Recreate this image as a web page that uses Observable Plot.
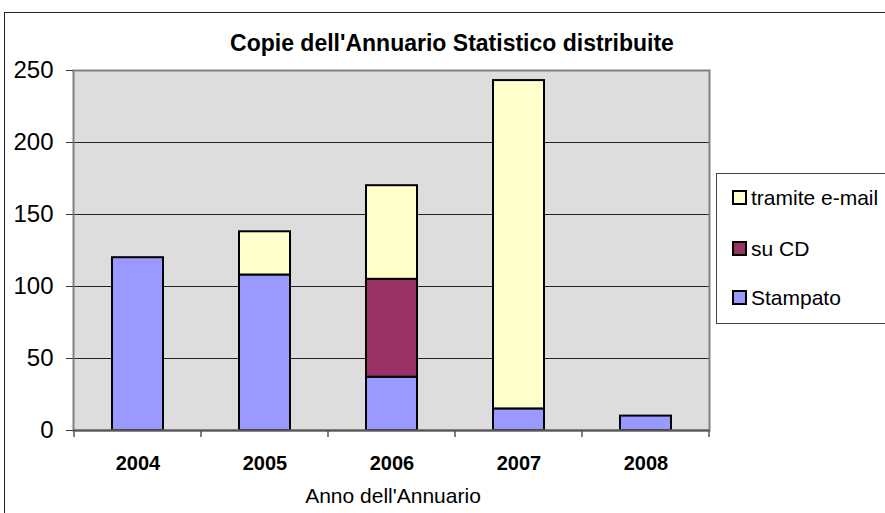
<!DOCTYPE html>
<html><head><meta charset="utf-8">
<script src="https://cdn.jsdelivr.net/npm/d3@7"></script>
<script src="https://cdn.jsdelivr.net/npm/@observablehq/plot@0.6"></script>
<style>
html,body{margin:0;padding:0;background:#fff;overflow:hidden}
#wrap{position:relative;width:885px;height:513px;overflow:hidden;font-family:"Liberation Sans",Arial,sans-serif;color:#000}
#border{position:absolute;left:4px;top:12px;width:1000px;height:1000px;border-left:1.5px solid #222;border-top:1.5px solid #222;box-sizing:border-box}
#chart{position:absolute;left:0;top:0}
#title{position:absolute;left:0;width:904px;top:31.5px;text-align:center;font-weight:bold;font-size:23px;line-height:23px;white-space:nowrap}
#xtitle{position:absolute;left:0;width:786px;top:485px;text-align:center;font-size:21px;line-height:21px;white-space:nowrap}
#legend{position:absolute;left:716px;top:173px;width:200px;height:151px;border:1.5px solid #444;background:#fff;box-sizing:border-box}
.item{position:absolute;left:15px;height:21px;display:flex;align-items:center;font-size:21px;line-height:21px;white-space:nowrap}
.sw{width:11px;height:11px;border:2px solid #000;margin-right:4px;flex:none}
</style>
</head><body>
<div id="wrap">
  <div id="border"></div>
  <div id="chart"></div>
  <div id="title">Copie dell'Annuario Statistico distribuite</div>
  <div id="xtitle">Anno dell'Annuario</div>
  <div id="legend"></div>
</div>
<script>
const years = ["2004", "2005", "2006", "2007", "2008"];
const series = ["Stampato", "su CD", "tramite e-mail"];
const stampato = [120, 108, 37, 15, 10];
const suCD = [0, 0, 68, 0, 0];
const email = [0, 30, 65, 228, 0];
const yTicks = [0, 50, 100, 150, 200, 250];
const colors = ["#9999FF", "#993366", "#FFFFCC"];
const legendOrder = ["tramite e-mail", "su CD", "Stampato"];

const seriesValues = [stampato, suCD, email];
const rows = [];
years.forEach((yr, i) => {
  series.forEach((s, j) => {
    const v = seriesValues[j][i];
    if (v > 0) rows.push({year: yr, series: s, value: v});
  });
});

function boundaryTicks(index, scales) {
  const x = scales.x;
  let bw = typeof x.bandwidth === "function" ? x.bandwidth() : (scales.scales && scales.scales.x.bandwidth) || 0;
  let step = typeof x.step === "function" ? x.step() : (x(years[1]) - x(years[0]));
  const y0 = scales.y(0);
  const xs = years.map(c => x(c) + bw / 2 - step / 2);
  xs.push(x(years[years.length - 1]) + bw / 2 + step / 2);
  const g = d3.create("svg:g").attr("stroke", "#555").attr("stroke-width", 1.5);
  g.selectAll("line").data(xs).join("line")
    .attr("x1", d => d).attr("x2", d => d)
    .attr("y1", y0).attr("y2", y0 + 7);
  return g.node();
}

const chart = Plot.plot({
  width: 885,
  height: 513,
  marginTop: 70,
  marginRight: 176,
  marginBottom: 83,
  marginLeft: 73,
  style: {fontFamily: '"Liberation Sans", Arial, sans-serif', background: "transparent", color: "#000"},
  x: {domain: years, paddingInner: 0.6, paddingOuter: 0.3, align: 0.5},
  y: {domain: [0, 250]},
  color: {domain: series, range: colors},
  marks: [
    Plot.frame({fill: "#DDDDDD", stroke: null}),
    Plot.ruleY(yTicks.filter(d => d > 0 && d < 250), {stroke: "#222", strokeWidth: 1}),
    Plot.barY(rows, {x: "year", y: "value", fill: "series", stroke: "#000", strokeWidth: 2, order: series}),
    Plot.frame({stroke: "#808080", strokeWidth: 2}),
    Plot.ruleY([0], {stroke: "#555", strokeWidth: 2}),
    Plot.axisY({ticks: yTicks, tickSize: 7, tickPadding: 13, fontSize: 24, label: null, stroke: "#333"}),
    Plot.axisX({tickSize: 0, tickPadding: 25, fontSize: 20, fontWeight: "bold", label: null}),
    boundaryTicks
  ]
});
document.getElementById("chart").appendChild(chart);

const legend = document.getElementById("legend");
const centers = [25, 76, 125];
legendOrder.forEach((s, i) => {
  const item = document.createElement("div");
  item.className = "item";
  item.style.top = (centers[i] - 10.5 - 1.5) + "px";
  const sw = document.createElement("span");
  sw.className = "sw";
  sw.style.background = colors[series.indexOf(s)];
  const t = document.createElement("span");
  t.textContent = s;
  item.appendChild(sw);
  item.appendChild(t);
  legend.appendChild(item);
});
</script>
</body></html>
